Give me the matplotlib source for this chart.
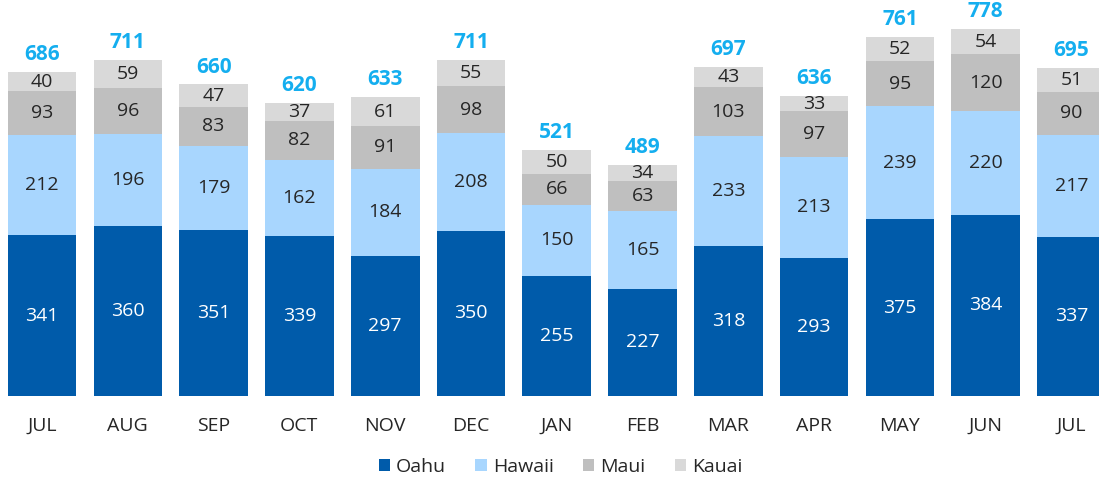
import matplotlib.pyplot as plt
import numpy as np

months = ['JUL', 'AUG', 'SEP', 'OCT', 'NOV', 'DEC', 'JAN', 'FEB', 'MAR', 'APR', 'MAY', 'JUN', 'JUL']
oahu = [341, 360, 351, 339, 297, 350, 255, 227, 318, 293, 375, 384, 337]
hawaii = [212, 196, 179, 162, 184, 208, 150, 165, 233, 213, 239, 220, 217]
maui = [93, 96, 83, 82, 91, 98, 66, 63, 103, 97, 95, 120, 90]
kauai = [40, 59, 47, 37, 61, 55, 50, 34, 43, 33, 52, 54, 51]
totals = [686, 711, 660, 620, 633, 711, 521, 489, 697, 636, 761, 778, 695]

series = [('Oahu', oahu, '#005BAA', 'white'),
          ('Hawaii', hawaii, '#A8D6FE', '#262626'),
          ('Maui', maui, '#BFBFBF', '#262626'),
          ('Kauai', kauai, '#D9D9D9', '#262626')]

plt.rcParams['font.family'] = ['Open Sans', 'DejaVu Sans']

fig = plt.figure(figsize=(10.99, 4.78), dpi=100)
ax = fig.add_axes([0, 82 / 478, 1, 396 / 478])

x = np.arange(len(months))
bottom = np.zeros(len(months))
for name, vals, color, tcolor in series:
    vals = np.array(vals)
    ax.bar(x, vals, width=0.8, bottom=bottom, color=color, label=name)
    # segment labels
    for xi, b, v in zip(x, bottom, vals):
        ax.text(xi, b + v / 2, str(v), ha='center', va='center',
                fontsize=14, color=tcolor)
    bottom += vals

# totals on top
for xi, t, top in zip(x, totals, bottom):
    ax.annotate(str(t), xy=(xi, top), xytext=(0, 5), textcoords='offset points',
                ha='center', va='bottom', fontsize=15, fontweight='bold',
                color='#14AEEF')

ax.set_xlim(-0.49, 12.32)
ax.set_ylim(0, 839)
ax.set_xticks(x)
ax.set_xticklabels(months, fontsize=14, color='#262626')
ax.tick_params(axis='x', length=0, pad=15)
ax.set_yticks([])
for s in ax.spines.values():
    s.set_visible(False)

ax.legend(loc='upper center', bbox_to_anchor=(0.51, -0.127), ncol=4, frameon=False,
          fontsize=14, handlelength=0.6, handleheight=0.6, handletextpad=0.3,
          columnspacing=1.5, labelcolor='#262626', borderaxespad=0.2)

fig.savefig('out.png', dpi=100)
